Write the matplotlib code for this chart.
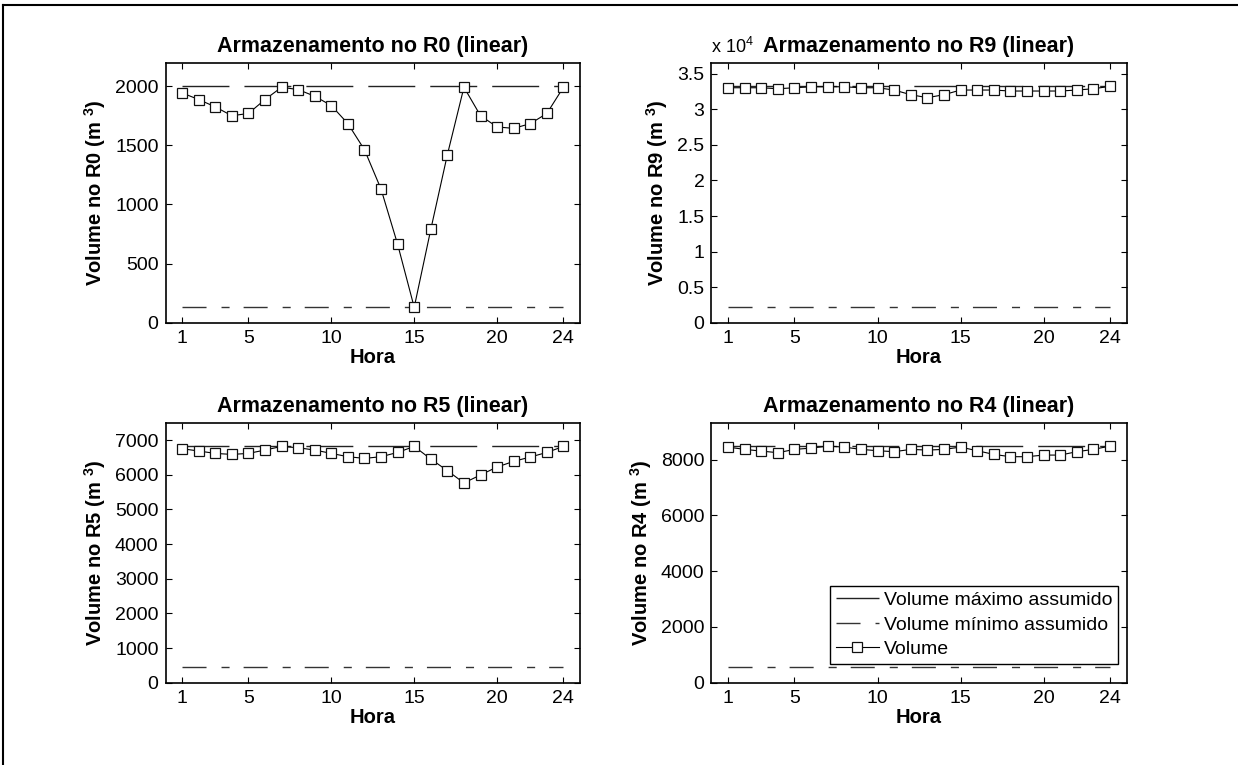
import numpy as np
import matplotlib
matplotlib.use('Agg')
import matplotlib.pyplot as plt
from matplotlib.lines import Line2D
from matplotlib.ticker import FuncFormatter

plt.rcParams['font.family'] = ['Liberation Sans', 'DejaVu Sans']
plt.rcParams['mathtext.fontset'] = 'custom'
plt.rcParams['mathtext.rm'] = 'Liberation Sans'
plt.rcParams['mathtext.bf'] = 'Liberation Sans:bold'
plt.rcParams['lines.scale_dashes'] = False

# hours
horas = np.arange(1, 25)
xticks = [1, 5, 10, 15, 20, 24]

# volumes (m3)
vol_r0 = [1944, 1888, 1826, 1751, 1770, 1888, 1992, 1972, 1916, 1837, 1684, 1463,
          1130, 663, 130, 789, 1421, 1992, 1751, 1656, 1644, 1684, 1770, 1992]
vol_r9 = [33045, 33045, 33045, 32905, 33045, 33184, 33184, 33184, 33045, 33045, 32723, 32067,
          31649, 32067, 32723, 32723, 32723, 32584, 32584, 32584, 32584, 32723, 32905, 33241]
vol_r5 = [6750, 6684, 6615, 6586, 6615, 6712, 6816, 6778, 6712, 6615, 6520, 6471,
          6520, 6643, 6816, 6453, 6117, 5763, 5993, 6223, 6385, 6511, 6643, 6816]
vol_r4 = [8451, 8369, 8308, 8251, 8369, 8415, 8487, 8451, 8369, 8322, 8286, 8369,
          8344, 8369, 8451, 8322, 8190, 8107, 8107, 8165, 8165, 8286, 8369, 8487]

# assumed limits
vmax = {'R0': 2000, 'R9': 33250, 'R5': 6820, 'R4': 8480}
vmin = {'R0': 130, 'R9': 2150, 'R5': 440, 'R4': 550}

yticks = {'R0': np.arange(0, 2001, 500),
          'R9': np.arange(0, 35001, 5000),
          'R5': np.arange(0, 7001, 1000),
          'R4': np.arange(0, 8001, 2000)}

paineis = [('R0', vol_r0), ('R9', vol_r9), ('R5', vol_r5), ('R4', vol_r4)]

# axes boxes in figure fraction
posicoes = {'R0': [0.1337, 0.5782, 0.3348, 0.3399],
            'R9': [0.5747, 0.5782, 0.3353, 0.3399],
            'R5': [0.1337, 0.1076, 0.3348, 0.3399],
            'R4': [0.5747, 0.1076, 0.3353, 0.3399]}

fig = plt.figure(figsize=(12.38, 7.65), dpi=100)
fig.patch.set_facecolor('white')

for nome, vol in paineis:
    ax = fig.add_axes(posicoes[nome])
    n = len(horas)
    ax.plot(horas, [vmax[nome]] * n, color='#222222', lw=1.0,
            dashes=(33.8, 10.8), label='Volume máximo assumido')
    ax.plot(horas, [vmin[nome]] * n, color='#333333', lw=1.0,
            dashes=(17.3, 10.8, 5.8, 10.1), label='Volume mínimo assumido')
    ax.plot(horas, vol, color='black', lw=0.8, marker='s', markersize=7.5,
            markerfacecolor='white', markeredgecolor='#111111',
            markeredgewidth=0.9, label='Volume')
    ax.set_xlim(0, 25)
    ax.set_ylim(0, vmax[nome] * 1.1)
    ax.set_xticks(xticks)
    ax.set_yticks(yticks[nome])
    ax.tick_params(direction='in', length=4, width=0.8, top=True, right=True,
                   labelsize=14, pad=5)
    for s in ax.spines.values():
        s.set_linewidth(1.2)
    ax.set_title('Armazenamento no %s (linear)' % nome, fontsize=15.5,
                 fontweight='bold', pad=8)
    ax.set_xlabel('Hora', fontsize=14.5, fontweight='bold', labelpad=1)
    ax.set_ylabel(r'Volume no %s (m $^{\mathbf{3}}$)' % nome, fontsize=14.5,
                  fontweight='bold', labelpad=5)
    if nome == 'R9':
        ax.yaxis.set_major_formatter(FuncFormatter(lambda v, p: ('%g' % (v / 1e4))))
        ax.text(0.0, 1.022, r'x 10$^{4}$', transform=ax.transAxes, fontsize=13,
                ha='left', va='bottom')
    if nome == 'R4':
        leg = ax.legend(loc='lower right', bbox_to_anchor=(0.9795, 0.072),
                        fontsize=14, frameon=True, fancybox=False,
                        edgecolor='black', framealpha=1, handlelength=2.2,
                        borderaxespad=0.0, labelspacing=0.35, handletextpad=0.25,
                        borderpad=0.3)
        leg.get_frame().set_linewidth(1.0)

# outer frame (top and left)
fig.add_artist(Line2D([0.0025, 1.0], [0.9935, 0.9935], color='black', lw=1.5,
                      transform=fig.transFigure))
fig.add_artist(Line2D([0.0025, 0.0025], [0.0, 0.9935], color='black', lw=1.5,
                      transform=fig.transFigure))

fig.savefig('out.png', dpi=100)
